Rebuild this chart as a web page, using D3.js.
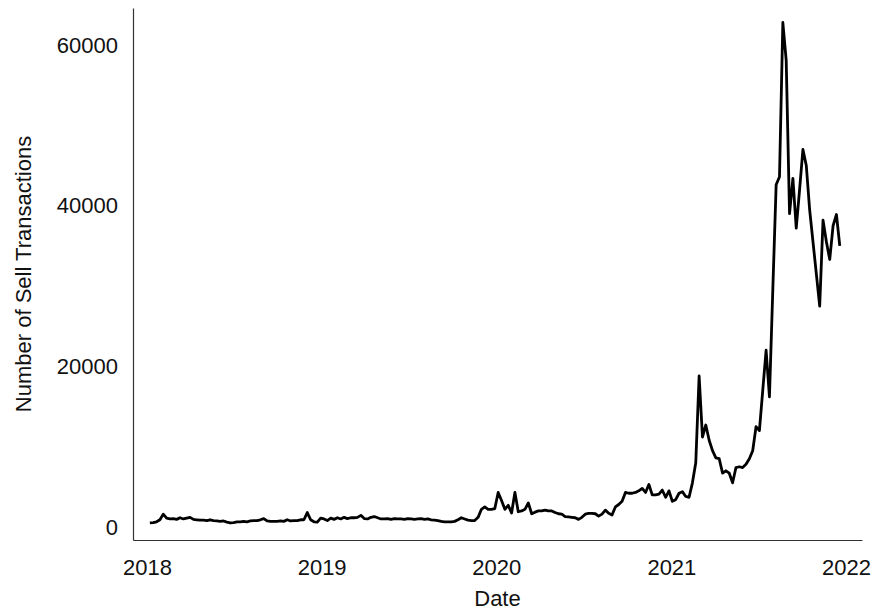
<!DOCTYPE html>
<html>
<head>
<meta charset="utf-8">
<script src="https://cdn.jsdelivr.net/npm/d3@7"></script>
<style>
  body { margin: 0; background: #fff; }
  svg { display: block; font-family: "Liberation Sans", Arial, sans-serif; }
  .axis path { stroke: #333; stroke-width: 1.2; }
  .axis text { font-size: 22px; fill: #111; }
  .axis-label { font-size: 22px; fill: #111; }
</style>
</head>
<body>
<svg id="chart" width="877" height="610"></svg>
<script>
// Weekly sell transactions, one array per year (weeks starting on the Sunday given in WEEK_START).
const WEEK_START = { 2018: "2018-01-07", 2019: "2019-01-06", 2020: "2020-01-05", 2021: "2021-01-03" };

const sells2018 = [
  500, 550, 650, 900, 1600, 1100, 1000, 1050, 950, 1150, 1000, 1100, 1200,
  950, 900, 850, 850, 800, 900, 800, 750, 700, 750, 600, 500, 550,
  650, 650, 700, 650, 750, 800, 800, 900, 1050, 750, 700, 700, 700,
  750, 700, 900, 750, 800, 800, 900, 900, 1800, 900, 650, 600, 1100,
];
const sells2019 = [
  1000, 800, 1100, 950, 1150, 1000, 1200, 1050, 1150, 1150, 1200, 1450, 1050,
  1000, 1200, 1300, 1150, 1000, 1000, 1050, 950, 1050, 1000, 1000, 950, 1050,
  1000, 950, 1000, 1050, 950, 1000, 900, 850, 800, 700, 650, 650, 650,
  700, 900, 1150, 1000, 850, 800, 800, 1200, 2200, 2500, 2200, 2200, 2300,
];
const sells2020 = [
  4300, 3300, 2200, 2700, 1750, 4300, 1900, 2000, 2200, 3000, 1650, 1850, 2000,
  2000, 2100, 2000, 2000, 1800, 1650, 1600, 1300, 1250, 1200, 1150, 950, 1200,
  1600, 1700, 1700, 1650, 1350, 1600, 2100, 1700, 1500, 2500, 2800, 3200, 4300,
  4200, 4200, 4300, 4500, 4800, 4300, 5300, 4000, 4000, 4100, 4600, 3700, 4500,
];
const sells2021 = [
  3200, 3400, 4200, 4400, 3800, 3700, 5500, 8000, 18800, 11200, 12700, 10800, 9500,
  8600, 8500, 6700, 7000, 6700, 5500, 7400, 7500, 7400, 7800, 8500, 9500, 12500,
  12000, 17000, 22000, 16200, 29500, 42600, 43600, 62800, 58100, 39000, 43400, 37200, 42000,
  47000, 45000, 39500, 35500, 31500, 27500, 38200, 35500, 33300, 37500, 38900, 35000,
];

const Y_TICKS = [0, 20000, 40000, 60000];
const X_TICKS = [2018, 2019, 2020, 2021, 2022];

const parse = d3.timeParse("%Y-%m-%d");
const series = [];
[[2018, sells2018], [2019, sells2019], [2020, sells2020], [2021, sells2021]].forEach(([yr, vals]) => {
  const start = parse(WEEK_START[yr]);
  vals.forEach((v, i) => series.push({ date: d3.timeWeek.offset(start, i), value: v }));
});

const svg = d3.select("#chart");
const plot = { left: 133, right: 862, top: 8, bottom: 540 };

// place years on the pixel positions of the reference, then widen to the axis box
const x = d3.scaleTime()
  .domain([new Date(2018, 0, 1), new Date(2022, 0, 1)])
  .range([147, 846]);
x.domain([x.invert(plot.left), x.invert(plot.right)]).range([plot.left, plot.right]);

const y = d3.scaleLinear().domain([0, 60000]).range([527, 45]);
y.domain([y.invert(plot.bottom), y.invert(plot.top)]).range([plot.bottom, plot.top]);

// axes (spines on left and bottom only, no tick marks)
svg.append("g").attr("class", "axis")
  .attr("transform", `translate(0,${plot.bottom})`)
  .call(d3.axisBottom(x)
    .tickValues(X_TICKS.map((yr) => new Date(yr, 0, 1)))
    .tickFormat(d3.timeFormat("%Y"))
    .tickSize(0).tickSizeOuter(0).tickPadding(19));

svg.append("g").attr("class", "axis")
  .attr("transform", `translate(${plot.left},0)`)
  .call(d3.axisLeft(y)
    .tickValues(Y_TICKS)
    .tickFormat(d3.format("d"))
    .tickSize(0).tickSizeOuter(0).tickPadding(15));

svg.selectAll(".axis .tick line").remove();

// line
svg.append("path")
  .datum(series)
  .attr("fill", "none")
  .attr("stroke", "#000")
  .attr("stroke-width", 2.8)
  .attr("stroke-linejoin", "round")
  .attr("d", d3.line().x((d) => x(d.date)).y((d) => y(d.value)));

// axis labels
svg.append("text").attr("class", "axis-label")
  .attr("x", (plot.left + plot.right) / 2).attr("y", 606)
  .attr("text-anchor", "middle").text("Date");

svg.append("text").attr("class", "axis-label")
  .attr("transform", `translate(31,${(plot.top + plot.bottom) / 2}) rotate(-90)`)
  .attr("text-anchor", "middle").text("Number of Sell Transactions");
</script>
</body>
</html>
